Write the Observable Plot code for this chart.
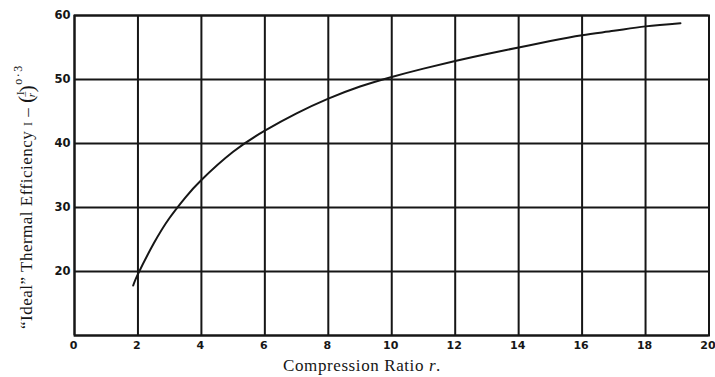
<!DOCTYPE html>
<html>
<head>
<meta charset="utf-8">
<script src="https://cdn.jsdelivr.net/npm/d3@7"></script>
<script src="https://cdn.jsdelivr.net/npm/@observablehq/plot@0.6"></script>
<style>
  html, body { margin: 0; padding: 0; background: #fff; }
  #chart svg { display: block; }
</style>
</head>
<body>
<div id="chart"></div>
<script>
// Compression ratio r (x) and "ideal" thermal efficiency in % (y)
const ratio = [1.85, 2, 2.5, 3, 3.5, 4, 5, 6, 7, 8, 9, 10, 11, 12, 13, 14, 15, 16, 17, 18, 19.1];
const efficiency = [17.8, 19.6, 24.4, 28.4, 31.6, 34.3, 38.7, 42.0, 44.7, 47.0, 48.9, 50.4, 51.7, 52.9, 54.0, 55.0, 56.0, 56.9, 57.6, 58.3, 58.8];
const xTicks = [0, 2, 4, 6, 8, 10, 12, 14, 16, 18, 20];
const yTicks = [20, 30, 40, 50, 60];
const yGrid = [10, 20, 30, 40, 50, 60];

const data = ratio.map((r, i) => ({r, e: efficiency[i]}));
const ink = "#161616";

const chart = Plot.plot({
  width: 715,
  height: 377,
  marginLeft: 74,
  marginRight: 6.5,
  marginTop: 15,
  marginBottom: 42,
  style: {background: "#fff", color: ink},
  x: {domain: [0, 20], label: null},
  y: {domain: [10, 60], label: null},
  marks: [
    Plot.ruleX(xTicks, {stroke: ink, strokeWidth: 2}),
    Plot.ruleY(yGrid, {stroke: ink, strokeWidth: 2}),
    Plot.frame({stroke: ink, strokeWidth: 2}),
    Plot.line(data, {x: "r", y: "e", curve: "natural", stroke: ink, strokeWidth: 2}),
    Plot.axisX(xTicks, {tickSize: 0, tickPadding: 6, fontSize: 11, fontWeight: "bold", fontFamily: "DejaVu Sans", label: null, dx: -1}),
    Plot.axisY(yTicks, {tickSize: 0, tickPadding: 4, fontSize: 11.5, fontWeight: "bold", fontFamily: "DejaVu Sans", label: null})
  ]
});
document.getElementById("chart").appendChild(chart);

const svg = d3.select(chart);
const serif = "'Liberation Serif', 'DejaVu Serif', serif";

// x axis title
const xt = svg.append("text")
  .attr("x", 362).attr("y", 371)
  .attr("text-anchor", "middle")
  .attr("font-family", serif).attr("font-size", 17)
  .attr("letter-spacing", 0.6)
  .attr("fill", ink);
xt.append("tspan").text("Compression Ratio ");
xt.append("tspan").attr("font-style", "italic").text("r");
xt.append("tspan").text(".");

// y axis title (rotated)
const yt = svg.append("text")
  .attr("transform", "translate(32,329) rotate(-90)")
  .attr("text-anchor", "start")
  .attr("font-family", serif).attr("font-size", 17)
  .attr("letter-spacing", 0.5)
  .attr("fill", ink);
yt.append("tspan").text("\u201CIdeal\u201D Thermal Efficiency ");
yt.append("tspan").attr("font-size", 12).text("I");
yt.append("tspan").text(" \u2013 ");
yt.append("tspan").attr("font-size", 22).attr("dy", 1).text("(");
yt.append("tspan").attr("font-size", 10).attr("dy", -9).attr("dx", 0).text("I");
yt.append("tspan").attr("font-size", 10).attr("dy", 4).attr("dx", -5.5).text("\u2013");
yt.append("tspan").attr("font-size", 11).attr("font-style", "italic").attr("dy", 7).attr("dx", -6).text("r");
yt.append("tspan").attr("font-size", 22).attr("dy", -1).attr("dx", 0).text(")");
yt.append("tspan").attr("font-size", 12).attr("letter-spacing", 1.5).attr("dy", -12).text("o\u00B73");
</script>
</body>
</html>
